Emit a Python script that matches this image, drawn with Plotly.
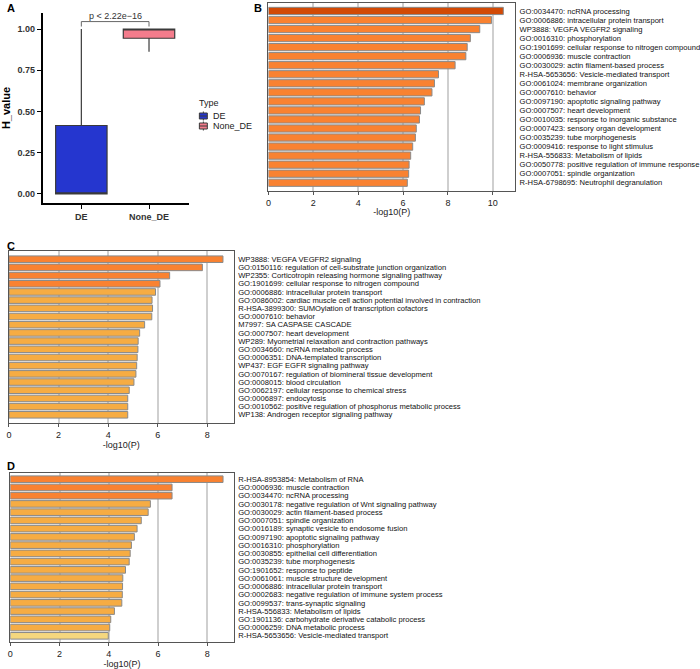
import plotly.graph_objects as go

W, H = 700, 669

# ---------------- Panel A data ----------------
box_types = ["DE", "None_DE"]
box_q1 = [0.0, 0.944]
box_median = [0.0, 1.0]
box_q3 = [0.415, 1.0]
box_lower = [0.0, 0.862]
box_upper = [1.0, 1.0]
box_colors = ["#2536CF", "#F47C8C"]
legend_title = "Type"
p_label = "p < 2.22e\u221216"

# ---------------- Panel B data ----------------
b_terms = [
    "GO:0034470: ncRNA processing",
    "GO:0006886: intracellular protein transport",
    "WP3888: VEGFA VEGFR2 signaling",
    "GO:0016310: phosphorylation",
    "GO:1901699: cellular response to nitrogen compound",
    "GO:0006936: muscle contraction",
    "GO:0030029: actin filament-based process",
    "R-HSA-5653656: Vesicle-mediated transport",
    "GO:0061024: membrane organization",
    "GO:0007610: behavior",
    "GO:0097190: apoptotic signaling pathway",
    "GO:0007507: heart development",
    "GO:0010035: response to inorganic substance",
    "GO:0007423: sensory organ development",
    "GO:0035239: tube morphogenesis",
    "GO:0009416: response to light stimulus",
    "R-HSA-556833: Metabolism of lipids",
    "GO:0050778: positive regulation of immune response",
    "GO:0007051: spindle organization",
    "R-HSA-6798695: Neutrophil degranulation",
]
b_values = [10.47, 9.94, 9.42, 9.00, 8.86, 8.80, 8.32, 7.58, 7.40, 7.29,
            6.95, 6.78, 6.73, 6.59, 6.55, 6.43, 6.34, 6.27, 6.25, 6.19]

# ---------------- Panel C data ----------------
c_terms = [
    "WP3888: VEGFA VEGFR2 signaling",
    "GO:0150116: regulation of cell-substrate junction organization",
    "WP2355: Corticotropin releasing hormone signaling pathway",
    "GO:1901699: cellular response to nitrogen compound",
    "GO:0006886: intracellular protein transport",
    "GO:0086002: cardiac muscle cell action potential involved in contraction",
    "R-HSA-3899300: SUMOylation of transcription cofactors",
    "GO:0007610: behavior",
    "M7997: SA CASPASE CASCADE",
    "GO:0007507: heart development",
    "WP289: Myometrial relaxation and contraction pathways",
    "GO:0034660: ncRNA metabolic process",
    "GO:0006351: DNA-templated transcription",
    "WP437: EGF EGFR signaling pathway",
    "GO:0070167: regulation of biomineral tissue development",
    "GO:0008015: blood circulation",
    "GO:0062197: cellular response to chemical stress",
    "GO:0006897: endocytosis",
    "GO:0010562: positive regulation of phosphorus metabolic process",
    "WP138: Androgen receptor signaling pathway",
]
c_values = [8.63, 7.80, 6.48, 6.09, 5.91, 5.77, 5.79, 5.76, 5.47, 5.27,
            5.21, 5.20, 5.17, 5.15, 5.12, 5.04, 4.85, 4.79, 4.79, 4.79]

# ---------------- Panel D data ----------------
d_terms = [
    "R-HSA-8953854: Metabolism of RNA",
    "GO:0006936: muscle contraction",
    "GO:0034470: ncRNA processing",
    "GO:0030178: negative regulation of Wnt signaling pathway",
    "GO:0030029: actin filament-based process",
    "GO:0007051: spindle organization",
    "GO:0016189: synaptic vesicle to endosome fusion",
    "GO:0097190: apoptotic signaling pathway",
    "GO:0016310: phosphorylation",
    "GO:0030855: epithelial cell differentiation",
    "GO:0035239: tube morphogenesis",
    "GO:1901652: response to peptide",
    "GO:0061061: muscle structure development",
    "GO:0006886: intracellular protein transport",
    "GO:0002683: negative regulation of immune system process",
    "GO:0099537: trans-synaptic signaling",
    "R-HSA-556833: Metabolism of lipids",
    "GO:1901136: carbohydrate derivative catabolic process",
    "GO:0006259: DNA metabolic process",
    "R-HSA-5653656: Vesicle-mediated transport",
]
d_values = [8.64, 6.57, 6.57, 5.69, 5.60, 5.32, 5.15, 5.04, 4.92, 4.87,
            4.83, 4.68, 4.57, 4.56, 4.55, 4.53, 4.23, 4.08, 4.04, 3.98]

x_ticks = [0, 2, 4, 6, 8, 10]


def bin_color(v):
    # Metascape-style p-value bins
    if v >= 10:
        return "#D24A06"
    if v >= 6:
        return "#F98231"
    if v >= 4:
        return "#F6AC43"
    return "#F5D77E"


def px_x(px):
    return px / W


def px_y(py):
    return 1 - py / H


FONT = "Liberation Sans, Arial, sans-serif"
fig = go.Figure()

# ---------------- Panel A ----------------
for i, t in enumerate(box_types):
    fig.add_trace(go.Box(
        x=[t], q1=[box_q1[i]], median=[box_median[i]], q3=[box_q3[i]],
        lowerfence=[box_lower[i]], upperfence=[box_upper[i]],
        name=t, fillcolor=box_colors[i], line=dict(color="#3a3a3a", width=1.2),
        width=0.76, whiskerwidth=0, boxpoints=False, xaxis="x", yaxis="y",
        showlegend=False, hoverinfo="skip",
    ))

# significance bracket
br_y = max(box_upper) + 0.045
fig.add_shape(type="line", xref="x", yref="y", x0=0, x1=1, y0=br_y, y1=br_y,
              line=dict(color="#666", width=1))
for xx in (0, 1):
    fig.add_shape(type="line", xref="x", yref="y", x0=xx, x1=xx,
                  y0=br_y, y1=br_y - 0.03, line=dict(color="#666", width=1))
fig.add_annotation(x=0.5, y=br_y, xref="x", yref="y", text=p_label,
                   showarrow=False, yanchor="bottom", yshift=-1,
                   font=dict(size=9, color="#333", family=FONT))

# manual legend for panel A
fig.add_annotation(x=px_x(195), y=px_y(103), xref="paper", yref="paper",
                   text=legend_title, showarrow=False, xanchor="left", yanchor="middle",
                   font=dict(size=9, color="#222", family=FONT))
for i, t in enumerate(box_types):
    cy = 116 + 10 * i
    fig.add_shape(type="line", xref="paper", yref="paper",
                  x0=px_x(201.5), x1=px_x(201.5), y0=px_y(cy - 4.5), y1=px_y(cy + 4.5),
                  line=dict(color="#3a3a3a", width=1))
    fig.add_shape(type="rect", xref="paper", yref="paper",
                  x0=px_x(197.5), x1=px_x(205.5), y0=px_y(cy - 3), y1=px_y(cy + 3),
                  fillcolor=box_colors[i], line=dict(color="#3a3a3a", width=1))
    fig.add_shape(type="line", xref="paper", yref="paper",
                  x0=px_x(197.5), x1=px_x(205.5), y0=px_y(cy), y1=px_y(cy),
                  line=dict(color="#3a3a3a", width=1))
    fig.add_annotation(x=px_x(209), y=px_y(cy), xref="paper", yref="paper",
                       text=t, showarrow=False, xanchor="left", yanchor="middle",
                       font=dict(size=9, color="#222", family=FONT))

# ---------------- Bar panels ----------------
panels = [
    ("x2", "y2", b_terms, b_values),
    ("x3", "y3", c_terms, c_values),
    ("x4", "y4", d_terms, d_values),
]
for xa, ya, terms, vals in panels:
    fig.add_trace(go.Bar(
        x=vals, y=terms, orientation="h", xaxis=xa, yaxis=ya,
        marker=dict(color=[bin_color(v) for v in vals],
                    line=dict(color="#8a8a8a", width=1)),
        showlegend=False, hoverinfo="skip",
    ))


def bar_xaxis(domain, vals, anchor):
    return dict(domain=domain, anchor=anchor, range=[0, max(vals) * 1.05],
                tickvals=x_ticks, showgrid=True, gridcolor="#cfcfcf", gridwidth=1.5,
                zeroline=False, showline=True, linecolor="#555", linewidth=1,
                mirror=True, ticks="outside", ticklen=3, tickcolor="#555",
                tickfont=dict(size=9, color="#222", family=FONT),
                title=dict(text="-log10(P)", standoff=2,
                           font=dict(size=9, color="#222", family=FONT)))


def bar_yaxis(domain, terms, anchor, pad):
    return dict(domain=domain, anchor=anchor, side="right", type="category",
                categoryorder="array", categoryarray=terms,
                tickmode="array", tickvals=terms, ticktext=terms,
                range=[len(terms) - 1 + pad, -pad],
                showgrid=False, zeroline=False, showline=True, linecolor="#555",
                linewidth=1, mirror=True, ticks="", ticklabelstandoff=2,
                tickfont=dict(size=7.6, color="#111", family=FONT))


layout = dict(
    width=W, height=H, margin=dict(l=0, r=0, t=0, b=0),
    paper_bgcolor="white", plot_bgcolor="white",
    bargap=0.2, boxgap=0.2,
    font=dict(family=FONT),
    showlegend=False,
    xaxis=dict(domain=[px_x(40), px_x(187)], anchor="y", range=[-0.57, 1.59],
               type="category", showline=True, linecolor="black", linewidth=2,
               ticks="outside", ticklen=4, tickcolor="black", showgrid=False,
               zeroline=False,
               tickfont=dict(size=9, color="#333", family=FONT, weight="bold")),
    yaxis=dict(domain=[px_y(203), px_y(13)], anchor="x", range=[-0.055, 1.097],
               tickvals=[0, 0.25, 0.5, 0.75, 1.0], tickformat=".2f",
               showline=True, linecolor="black", linewidth=2, ticks="outside",
               ticklen=4, tickcolor="black", showgrid=False, zeroline=False,
               tickfont=dict(size=9, color="#333", family=FONT, weight="bold"),
               title=dict(text="H_value", standoff=8,
                          font=dict(size=11, color="black", family=FONT, weight="bold"))),
    xaxis2=bar_xaxis([px_x(267), px_x(515)], b_values, "y2"),
    yaxis2=bar_yaxis([px_y(190.7), px_y(3)], b_terms, "x2", 0.88),
    xaxis3=bar_xaxis([px_x(6), px_x(232)], c_values, "y3"),
    yaxis3=bar_yaxis([px_y(423), px_y(251)], c_terms, "x3", 1.0),
    xaxis4=bar_xaxis([px_x(7.3), px_x(232)], d_values, "y4"),
    yaxis4=bar_yaxis([px_y(642), px_y(473)], d_terms, "x4", 0.75),
)
fig.update_layout(**layout)

for letter, lx, ly in [("A", 2, 0), ("B", 250, 0), ("C", 2, 238), ("D", 2, 458)]:
    fig.add_annotation(x=px_x(lx), y=px_y(ly), xref="paper", yref="paper",
                       text=f"<b>{letter}</b>", showarrow=False,
                       xanchor="left", yanchor="top",
                       font=dict(size=11, color="black", family=FONT))

fig.write_html("out.html")
